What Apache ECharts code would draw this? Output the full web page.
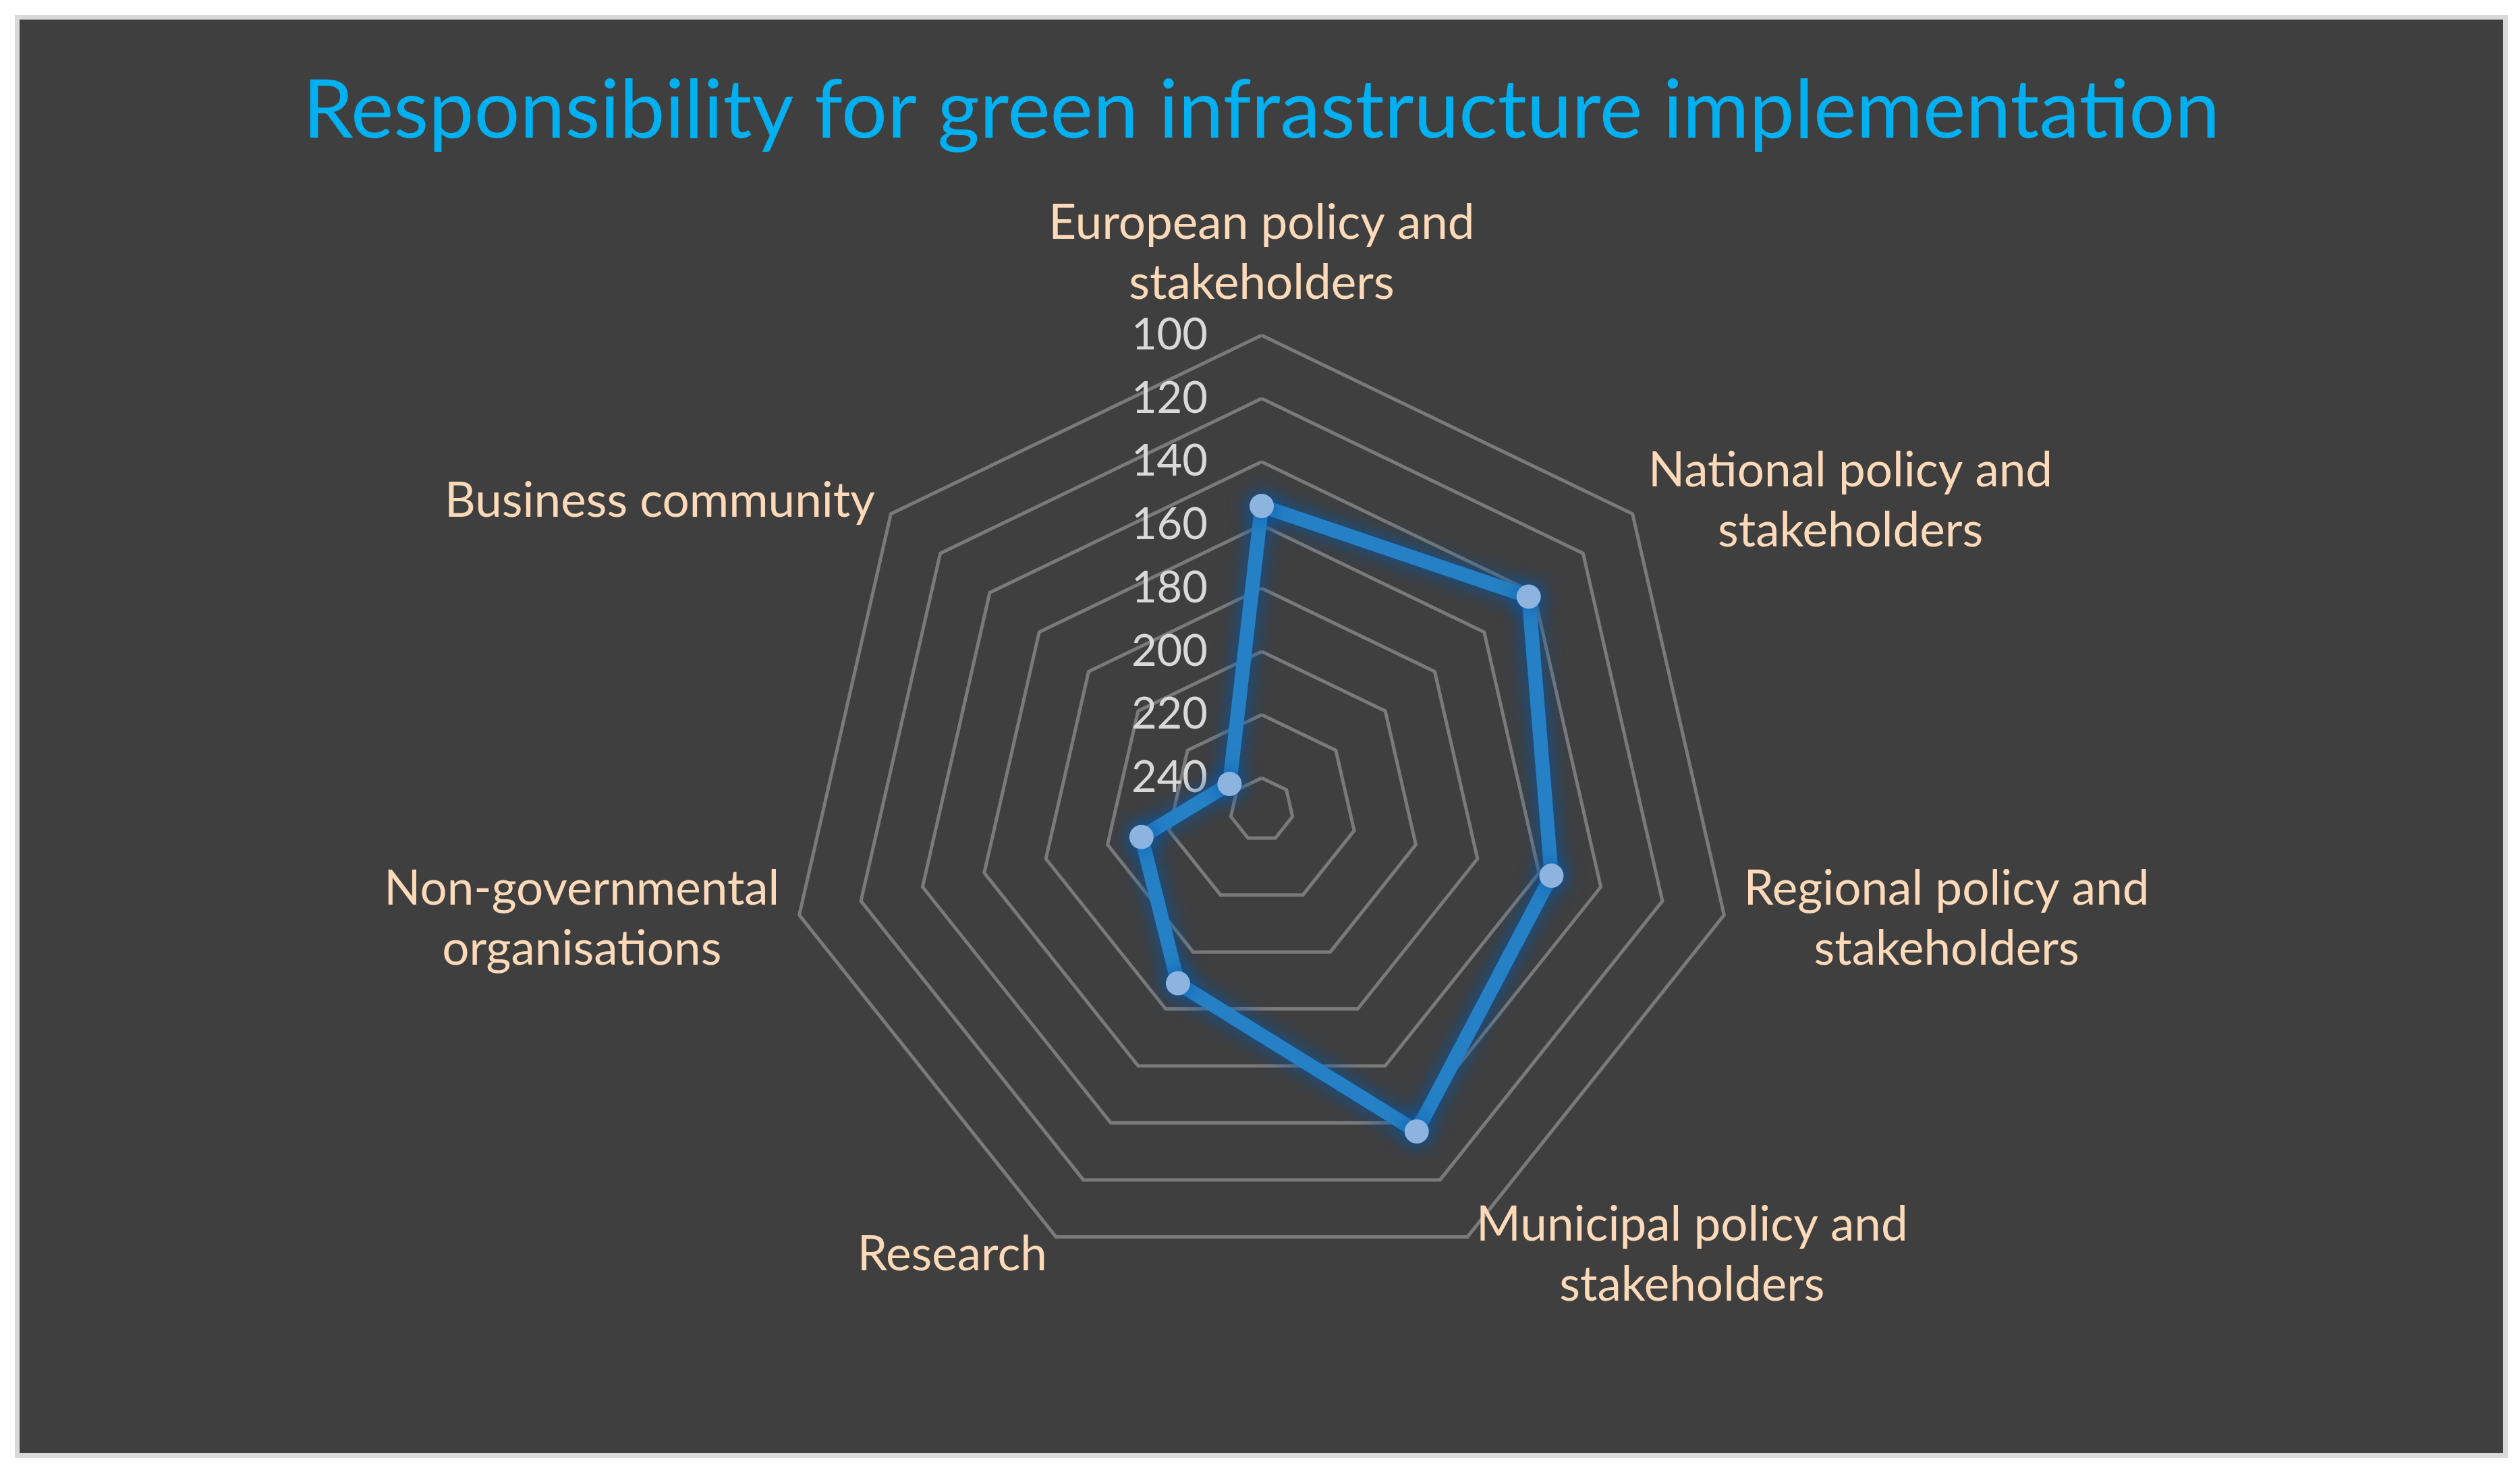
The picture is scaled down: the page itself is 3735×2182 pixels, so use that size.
<!DOCTYPE html>
<html>
<head>
<meta charset="utf-8">
<title>Responsibility for green infrastructure implementation</title>
<script src="https://cdn.jsdelivr.net/npm/echarts@6/dist/echarts.min.js"></script>
<style>
    html, body { margin: 0; padding: 0; background: #ffffff; }
    #panel {
        position: absolute;
        left: 22px;
        top: 22px;
        width: 3681px;
        height: 2125px;
        border: 7px solid #d9d9d9;
        background: #3f3f3f;
    }
    #chart { width: 100%; height: 100%; }
</style>
</head>
<body>
<div id="panel"><div id="chart"></div></div>
<script>
// categories, clockwise from the top (as in the source chart)
const categories = [
    'European policy and\nstakeholders',
    'National policy and\nstakeholders',
    'Regional policy and\nstakeholders',
    'Municipal policy and\nstakeholders',
    'Research',
    'Non-governmental\norganisations',
    'Business community'
];
const responsibility = [154, 142, 156, 137, 189, 211, 237];
// reversed value axis: 100 on the outer ring, 250 in the centre
const tickValues = [100, 120, 140, 160, 180, 200, 220, 240];
const axisOuter = 100;
const axisCenter = 250;

const labelFont = 'Lato';
const labelColor = '#fcd9b8';
const glow = '#0058ac';

// echarts lays indicators out anticlockwise, so walk the list backwards after the first one
const order = categories.map((c, i) => (i === 0 ? 0 : categories.length - i));

const indicators = order.map((idx, k) => {
    const ind = {
        name: categories[idx].split('\n').map(s => '{c|' + s + '}').join('\n'),
        min: 0,
        max: axisCenter - axisOuter
    };
    if (k === 0) {
        ind.axisLabel = {
            show: true,
            margin: 80,
            color: '#d9d9d9',
            fontSize: 65,
            fontFamily: labelFont,
            formatter: v => {
                const real = Math.round(axisCenter - v);
                return tickValues.indexOf(real) >= 0 ? String(real) : '';
            }
        };
    }
    return ind;
});

const chart = echarts.init(document.getElementById('chart'));
chart.setOption({
    animation: false,
    backgroundColor: 'transparent',
    title: {
        text: 'Responsibility for green infrastructure implementation',
        left: 'center',
        top: 76,
        padding: 0,
        textStyle: {
            color: '#00b0f0',
            fontSize: 120,
            fontWeight: 'normal',
            fontFamily: labelFont
        }
    },
    radar: {
        center: [1841, 1171],
        radius: 703,
        startAngle: 90,
        shape: 'polygon',
        splitNumber: 15, // 10-unit steps, every other ring drawn
        indicator: indicators,
        axisNameGap: 30,
        axisName: {
            color: labelColor,
            fontSize: 71,
            fontFamily: labelFont,
            lineHeight: 89,
            rich: {
                c: { align: 'center', color: labelColor, fontSize: 71, fontFamily: labelFont, lineHeight: 89 }
            }
        },
        splitLine: { lineStyle: { color: ['transparent', '#7a7a7a'], width: 5 } },
        splitArea: { show: false },
        axisLine: { show: false },
        axisTick: { show: false },
        axisLabel: { show: false }
    },
    series: [{
        type: 'radar',
        symbol: 'circle',
        symbolSize: 36,
        itemStyle: { color: '#8db4de', shadowBlur: 30, shadowColor: glow },
        lineStyle: {
            color: '#2680c5',
            width: 21,
            shadowBlur: 30,
            shadowColor: glow
        },
        data: [{
            name: 'Responsibility',
            value: order.map(idx => axisCenter - responsibility[idx])
        }]
    }]
});
</script>
</body>
</html>
